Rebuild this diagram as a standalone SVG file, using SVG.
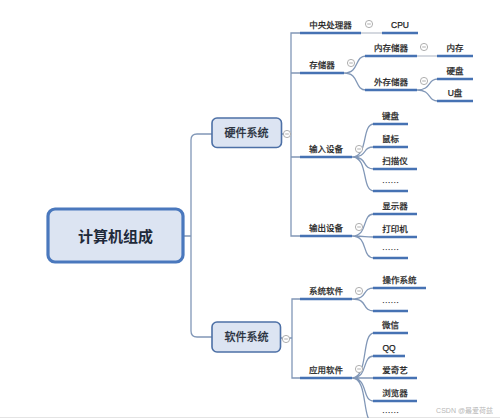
<svg xmlns="http://www.w3.org/2000/svg" width="500" height="418" viewBox="0 0 500 418">
<style>
text{font-family:"Liberation Sans","Noto Sans CJK SC",sans-serif;fill:#1e1e1e;text-anchor:middle}
.t{font-size:8.5px;stroke:#1e1e1e;stroke-width:0.25}
.d{font-family:"Noto Sans CJK SC",sans-serif;font-size:8.5px}
.b{font-size:11px;fill:#232b38;stroke:#232b38;stroke-width:0.3}
.r{font-size:15px;font-weight:bold;fill:#1f2a3a}
.ul{stroke:#4672b3;stroke-width:2.6;fill:none}
.c{stroke:#8197b7;stroke-width:1.3;fill:none}
.g{stroke:#aab2bf;stroke-width:1.2;fill:none}
.box{fill:#dce4f2;stroke:#4d70a6;stroke-width:1.6}
.col{fill:#fff;stroke:#a6a6a6;stroke-width:0.9}
.m{stroke:#a6a6a6;stroke-width:0.9}
</style>
<rect width="500" height="418" fill="#fff"/>
<line x1="0" y1="417.5" x2="500" y2="417.5" stroke="#e4e4e4" stroke-width="1"/>

<g id="connectors">
  <path class="c" d="M184,236 H191 M212,134 H197 Q191,134 191,140 V331 Q191,337 197,337 H212"/>
  <path class="c" d="M281,134 H291 M300,33 H291 V236 H300 M291,73 H300 M291,157 H300"/>
  <path class="c" d="M280,338 H292 M300,299 H292 V378 H300"/>
  <path class="g" d="M361,33 H382 M417,56 H437"/>
  <path class="c" d="M344,73 C360,73 354,56 366,56 M344,73 C360,73 354,90 366,90"/>
  <path class="c" d="M417,90 C432,90 427,79 438,79 M417,90 C432,90 427,101 438,101"/>
  <path class="c" d="M352,157 C369,157 361,124 374,124 M352,157 C369,157 361,147 374,147 M352,157 C369,157 361,169 374,169 M352,157 C369,157 361,191 374,191"/>
  <path class="c" d="M352,236 C369,236 361,214 374,214 M352,236 C369,236 361,237 374,237 M352,236 C369,236 361,258 374,258"/>
  <path class="c" d="M352,299 C369,299 361,288 374,288 M352,299 C369,299 361,311 374,311"/>
  <path class="c" d="M352,378 C369,378 361,333 374,333 M352,378 C369,378 361,356 374,356 M352,378 C369,378 361,378 374,378 M352,378 C369,378 361,401 374,401 M352,378 C369,378 361,423 374,423"/>
</g>

<g id="root">
  <rect x="48" y="209" width="135" height="53" rx="7" fill="#dce4f2" stroke="#4a78bd" stroke-width="3.2"/>
  <text class="r" x="115.5" y="241.5">计算机组成</text>
</g>

<g id="hardware">
  <rect class="box" x="212" y="118" width="69.5" height="29.5" rx="5"/>
  <text class="b" x="246.5" y="137">硬件系统</text>
  <circle class="col" cx="287" cy="134" r="3.6"/><line class="m" x1="285.2" y1="134" x2="288.8" y2="134"/>
</g>

<g id="software">
  <rect class="box" x="212" y="322" width="68.5" height="30" rx="5"/>
  <text class="b" x="246.5" y="341">软件系统</text>
  <circle class="col" cx="286" cy="339" r="3.6"/><line class="m" x1="284.2" y1="339" x2="287.8" y2="339"/>
</g>

<g id="cpu-group">
  <line class="ul" x1="300" y1="33" x2="361" y2="33"/>
  <text class="t" x="330.5" y="28">中央处理器</text>
  <circle class="col" cx="369" cy="24" r="3.6"/><line class="m" x1="367.2" y1="24" x2="370.8" y2="24"/>
</g>
<g id="cpu">
  <line class="ul" x1="382" y1="33" x2="418" y2="33"/>
  <text class="t" x="400" y="28">CPU</text>
</g>

<g id="storage">
  <line class="ul" x1="300" y1="73" x2="344" y2="73"/>
  <text class="t" x="322" y="68">存储器</text>
  <circle class="col" cx="351" cy="63" r="3.6"/><line class="m" x1="349.2" y1="63" x2="352.8" y2="63"/>
</g>
<g id="inner-storage">
  <line class="ul" x1="365" y1="56" x2="417" y2="56"/>
  <text class="t" x="391" y="51">内存储器</text>
  <circle class="col" cx="424" cy="47" r="3.6"/><line class="m" x1="422.2" y1="47" x2="425.8" y2="47"/>
</g>
<g id="memory">
  <line class="ul" x1="437" y1="56" x2="473" y2="56"/>
  <text class="t" x="455" y="51">内存</text>
</g>
<g id="outer-storage">
  <line class="ul" x1="365" y1="90" x2="417" y2="90"/>
  <text class="t" x="391" y="85">外存储器</text>
  <circle class="col" cx="424" cy="81" r="3.6"/><line class="m" x1="422.2" y1="81" x2="425.8" y2="81"/>
</g>
<g id="hdd">
  <line class="ul" x1="437" y1="79" x2="473" y2="79"/>
  <text class="t" x="455" y="74">硬盘</text>
</g>
<g id="udisk">
  <line class="ul" x1="437" y1="101" x2="473" y2="101"/>
  <text class="t" x="455" y="96">U盘</text>
</g>

<g id="input">
  <line class="ul" x1="300" y1="157" x2="352" y2="157"/>
  <text class="t" x="326" y="152">输入设备</text>
  <circle class="col" cx="359" cy="149" r="3.6"/><line class="m" x1="357.2" y1="149" x2="360.8" y2="149"/>
</g>
<g id="keyboard">
  <line class="ul" x1="373" y1="124" x2="408" y2="124"/>
  <text class="t" x="390.5" y="119">键盘</text>
</g>
<g id="mouse">
  <line class="ul" x1="373" y1="147" x2="408" y2="147"/>
  <text class="t" x="390.5" y="142">鼠标</text>
</g>
<g id="scanner">
  <line class="ul" x1="373" y1="169" x2="417" y2="169"/>
  <text class="t" x="395" y="164">扫描仪</text>
</g>
<g id="input-more">
  <line class="ul" x1="373" y1="191" x2="408" y2="191"/>
  <text class="d" x="390.5" y="186">……</text>
</g>

<g id="output">
  <line class="ul" x1="300" y1="236" x2="352" y2="236"/>
  <text class="t" x="326" y="231">输出设备</text>
  <circle class="col" cx="359" cy="227" r="3.6"/><line class="m" x1="357.2" y1="227" x2="360.8" y2="227"/>
</g>
<g id="display">
  <line class="ul" x1="373" y1="214" x2="417" y2="214"/>
  <text class="t" x="395" y="209">显示器</text>
</g>
<g id="printer">
  <line class="ul" x1="373" y1="237" x2="417" y2="237"/>
  <text class="t" x="395" y="232">打印机</text>
</g>
<g id="output-more">
  <line class="ul" x1="373" y1="258" x2="408" y2="258"/>
  <text class="d" x="390.5" y="253">……</text>
</g>

<g id="system-sw">
  <line class="ul" x1="300" y1="299" x2="352" y2="299"/>
  <text class="t" x="326" y="294">系统软件</text>
  <circle class="col" cx="359" cy="291" r="3.6"/><line class="m" x1="357.2" y1="291" x2="360.8" y2="291"/>
</g>
<g id="os">
  <line class="ul" x1="373" y1="288" x2="426" y2="288"/>
  <text class="t" x="399.5" y="283">操作系统</text>
</g>
<g id="system-more">
  <line class="ul" x1="373" y1="311" x2="408" y2="311"/>
  <text class="d" x="390.5" y="306">……</text>
</g>

<g id="app-sw">
  <line class="ul" x1="300" y1="378" x2="352" y2="378"/>
  <text class="t" x="326" y="373">应用软件</text>
  <circle class="col" cx="359" cy="369" r="3.6"/><line class="m" x1="357.2" y1="369" x2="360.8" y2="369"/>
</g>
<g id="wechat">
  <line class="ul" x1="373" y1="333" x2="408" y2="333"/>
  <text class="t" x="390.5" y="328">微信</text>
</g>
<g id="qq">
  <line class="ul" x1="373" y1="356" x2="405" y2="356"/>
  <text class="t" x="389" y="351">QQ</text>
</g>
<g id="iqiyi">
  <line class="ul" x1="373" y1="378" x2="417" y2="378"/>
  <text class="t" x="395" y="373">爱奇艺</text>
</g>
<g id="browser">
  <line class="ul" x1="373" y1="401" x2="417" y2="401"/>
  <text class="t" x="395" y="396">浏览器</text>
</g>
<g id="app-more">
  <line class="ul" x1="373" y1="423" x2="408" y2="423"/>
  <text class="d" x="390.5" y="416">……</text>
</g>

<text x="493" y="413" style="font-size:7px;fill:#b8b8b8;text-anchor:end">CSDN @最爱荷兹</text>
</svg>
